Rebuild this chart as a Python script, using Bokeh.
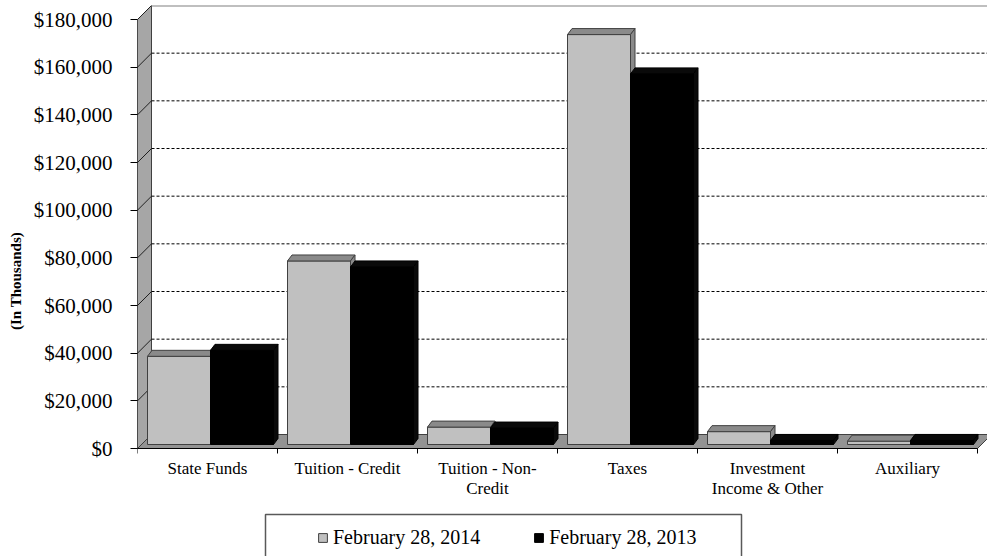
from bokeh.plotting import figure
from bokeh.models import Range1d, FixedTicker, NumeralTickFormatter, Legend, LegendItem
from bokeh.core.properties import value
from bokeh.embed import file_html
from bokeh.resources import INLINE

# ---------------- data ----------------
categories = ["State Funds", "Tuition - Credit", "Tuition - Non-\nCredit", "Taxes",
              "Investment\nIncome & Other", "Auxiliary"]
series_names = ["February 28, 2014", "February 28, 2013"]
values_2014 = [37000, 77000, 7300, 172000, 5400, 1400]
values_2013 = [39500, 74500, 6900, 155500, 1700, 1700]
y_ticks = [0, 20000, 40000, 60000, 80000, 100000, 120000, 140000, 160000, 180000]
y_axis_title = "(In Thousands)"

# ---------------- layout constants (pixels) ----------------
W, H = 987, 556
FRAME_L, FRAME_T = 137, 5
ZERO_PX, TOP_PX = 448, 19
CAT_PX = 140.0
ymax = y_ticks[-1]
ppy = (ZERO_PX - TOP_PX) / ymax


def px_x(n):
    return n / CAT_PX


def px_y(n):
    return n / ppy


def cy(canvas_y):
    return (ZERO_PX - canvas_y) / ppy


x_end = (W - FRAME_L) / CAT_PX
y_start = -(H - ZERO_PX) / ppy
y_end = (ZERO_PX - FRAME_T) / ppy

WALL_DX, WALL_DY = px_x(14), px_y(14)
BAR_BASE = px_y(4)
BAR_GAP = px_x(10)
BAR_W = px_x(63)
BAR_DX, BAR_DY = px_x(4.5), px_y(6)
n = len(categories)

p = figure(width=W, height=H, x_range=Range1d(0, x_end), y_range=Range1d(y_start, y_end),
           min_border_left=FRAME_L, min_border_right=0, min_border_top=FRAME_T,
           min_border_bottom=0, output_backend="svg", toolbar_location=None,
           x_axis_location=None, y_axis_location="left")
p.outline_line_color = None
p.grid.visible = False
p.background_fill_color = "white"
p.border_fill_color = "white"

ax = p.yaxis[0]
ax.ticker = FixedTicker(ticks=y_ticks)
ax.formatter = NumeralTickFormatter(format="$0,0")
ax.major_label_text_font = "Liberation Serif"
ax.major_label_text_font_size = "21px"
ax.major_label_text_color = "black"
ax.major_tick_out = 7
ax.major_tick_in = 0
ax.minor_tick_out = 0
ax.minor_tick_in = 0
ax.major_tick_line_color = "black"
ax.axis_line_color = None
ax.major_label_standoff = 18
ax.axis_label = y_axis_title
ax.axis_label_text_font = "Liberation Serif"
ax.axis_label_text_font_style = "bold"
ax.axis_label_text_font_size = "15px"
ax.axis_label_text_color = "black"
ax.axis_label_standoff = 7

# ---------------- walls ----------------
# left side wall
p.patch([0, WALL_DX, WALL_DX, 0], [0, WALL_DY, ymax + WALL_DY, ymax],
        fill_color="#a6a6a6", line_color="#404040", line_width=1)
# back wall dashed gridlines
mid = y_ticks[1:-1]
p.segment(x0=[WALL_DX] * len(mid), x1=[x_end] * len(mid),
          y0=[v + WALL_DY for v in mid], y1=[v + WALL_DY for v in mid],
          line_color="black", line_width=1, line_dash="3 2")
# back wall top border
p.segment(x0=[WALL_DX], x1=[x_end], y0=[ymax + WALL_DY], y1=[ymax + WALL_DY],
          line_color="#808080", line_width=2)
# wall-to-axis connectors
p.segment(x0=[0] * len(y_ticks), x1=[WALL_DX] * len(y_ticks),
          y0=y_ticks, y1=[v + WALL_DY for v in y_ticks], line_color="#202020", line_width=1)
# floor
p.patch([0, n, n + WALL_DX, WALL_DX], [0, 0, WALL_DY, WALL_DY],
        fill_color="#939393", line_color="#404040", line_width=1)
# front axis lines
p.segment(x0=[0], x1=[0], y0=[0], y1=[ymax], line_color="black", line_width=1)
p.segment(x0=[0], x1=[n], y0=[0], y1=[0], line_color="black", line_width=1)
p.segment(x0=list(range(n + 1)), x1=list(range(n + 1)), y0=[0] * (n + 1),
          y1=[-px_y(5)] * (n + 1), line_color="black", line_width=1)

# ---------------- bars ----------------
def draw_series(vals, s, front, shade, outline):
    lefts = [i + BAR_GAP + s * BAR_W for i in range(n)]
    rights = [l + BAR_W for l in lefts]
    tops = [BAR_BASE + v for v in vals]
    r = p.quad(left=lefts, right=rights, bottom=[BAR_BASE] * n, top=tops,
               fill_color=front, line_color=outline, line_width=1)
    top_xs = [[l, rr, rr + BAR_DX, l + BAR_DX] for l, rr in zip(lefts, rights)]
    top_ys = [[t, t, t + BAR_DY, t + BAR_DY] for t in tops]
    p.patches(top_xs, top_ys, fill_color=shade, line_color=outline, line_width=1)
    side_xs = [[rr, rr + BAR_DX, rr + BAR_DX, rr] for rr in rights]
    side_ys = [[BAR_BASE, BAR_BASE + BAR_DY, t + BAR_DY, t] for t in tops]
    p.patches(side_xs, side_ys, fill_color=shade, line_color=outline, line_width=1)
    return r

r14 = draw_series(values_2014, 0, "#c0c0c0", "#8a8a8a", "#404040")
r13 = draw_series(values_2013, 1, "#000000", "#0a0a0a", "#000000")

# ---------------- category labels ----------------
p.text(x=[i + 0.5 for i in range(n)], y=[0] * n, text=categories,
       text_align="center", text_baseline="top", y_offset=10,
       text_font=value("Liberation Serif"), text_font_size="17px",
       text_color="black", text_line_height=1.1)

# ---------------- legend ----------------
p.quad(left=[px_x(265 - FRAME_L)], right=[px_x(741 - FRAME_L)],
       top=[cy(514)], bottom=[cy(570)], fill_color=None,
       line_color="#595959", line_width=1.5)
legend = Legend(items=[LegendItem(label=series_names[0], renderers=[r14]),
                       LegendItem(label=series_names[1], renderers=[r13])],
                orientation="horizontal", location=(180, 7),
                padding=0, margin=0, spacing=53, label_standoff=5,
                glyph_width=11, glyph_height=11,
                border_line_color=None, background_fill_alpha=0,
                label_text_font="Liberation Serif", label_text_font_size="20px",
                label_text_color="black")
p.add_layout(legend)

open("out.html", "w").write(file_html(p, INLINE))
